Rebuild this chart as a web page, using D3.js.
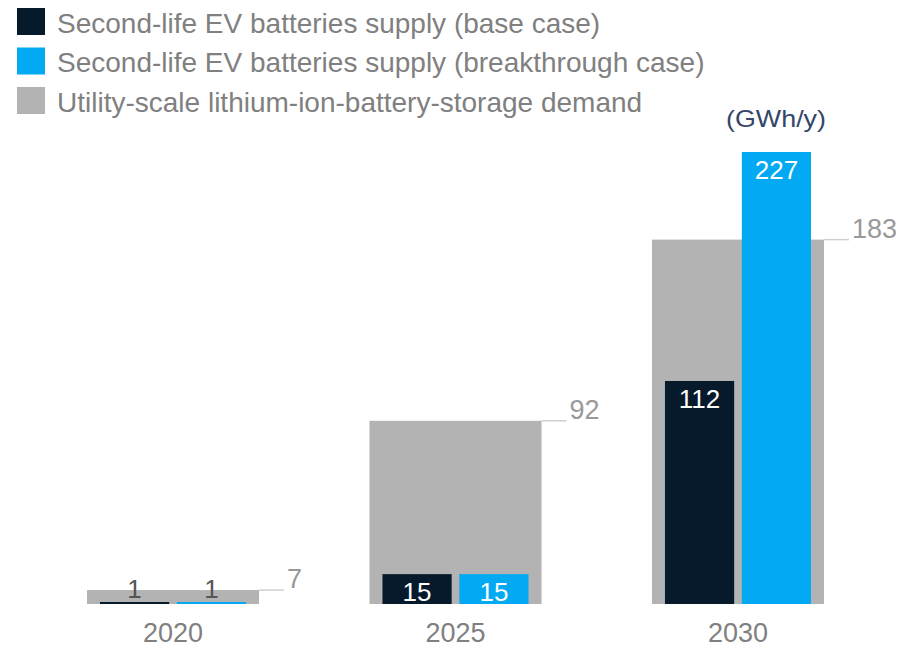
<!DOCTYPE html>
<html>
<head>
<meta charset="utf-8">
<script src="https://cdn.jsdelivr.net/npm/d3@7"></script>
<style>
  html, body { margin: 0; padding: 0; background: #fff; }
  svg { display: block; font-family: "Liberation Sans", Arial, sans-serif; }
</style>
</head>
<body>
<svg id="chart" width="898" height="648"></svg>
<script>
// ---- data ----
const years = ["2020", "2025", "2030"];
const baseCase = [1, 15, 112];
const breakthroughCase = [1, 15, 227];
const demand = [7, 92, 183];
const seriesNames = [
  "Second-life EV batteries supply (base case)",
  "Second-life EV batteries supply (breakthrough case)",
  "Utility-scale lithium-ion-battery-storage demand"
];
const unitLabel = "(GWh/y)";

// ---- styles ----
const colors = { base: "#061a2b", breakthrough: "#03a9f2", demand: "#b3b3b3" };

const svg = d3.select("#chart");

const x = d3.scaleBand().domain(years).range([30.5, 880.5]).paddingInner(0.391).paddingOuter(0.2);
const xi = d3.scaleBand().domain(["base", "breakthrough"])
  .range([13, x.bandwidth() - 13]).paddingInner(0.1);
const y = d3.scaleLinear().domain([0, 227]).range([604, 152]);

const rows = years.map((yr, i) => ({ year: yr, base: baseCase[i], breakthrough: breakthroughCase[i], demand: demand[i] }));

// legend
const legendColors = [colors.base, colors.breakthrough, colors.demand];
const lg = svg.append("g");
seriesNames.forEach((name, i) => {
  const yy = 8 + i * 39.5;
  lg.append("rect").attr("x", 17).attr("y", yy).attr("width", 28).attr("height", 27).attr("fill", legendColors[i]);
  lg.append("text").attr("x", 57).attr("y", yy + 24.5).attr("font-size", 28)
    .attr("fill", "#808080").text(name);
});

// unit label
svg.append("text").attr("x", 776).attr("y", 127).attr("text-anchor", "middle")
  .attr("font-size", 24).attr("fill", "#34466a")
  .attr("textLength", 100).attr("lengthAdjust", "spacingAndGlyphs").text(unitLabel);

const g = svg.append("g");
const groups = g.selectAll("g.grp").data(rows).join("g")
  .attr("class", "grp").attr("transform", d => `translate(${x(d.year)},0)`);

// demand bars
groups.append("rect")
  .attr("x", 0).attr("width", x.bandwidth())
  .attr("y", d => y(d.demand)).attr("height", d => y(0) - y(d.demand))
  .attr("fill", colors.demand);

// leader lines + demand labels
groups.append("line")
  .attr("x1", x.bandwidth()).attr("x2", x.bandwidth() + 25)
  .attr("y1", d => y(d.demand)).attr("y2", d => y(d.demand))
  .attr("stroke", "#cfcfcf").attr("stroke-width", 1.5);
groups.append("text")
  .attr("x", x.bandwidth() + 28).attr("y", d => y(d.demand) - 2)
  .attr("font-size", 27).attr("fill", "#999999").text(d => d.demand);

// supply bars
["base", "breakthrough"].forEach(key => {
  groups.append("rect")
    .attr("x", xi(key)).attr("width", xi.bandwidth())
    .attr("y", d => y(d[key])).attr("height", d => y(0) - y(d[key]))
    .attr("fill", colors[key]);
  groups.append("text")
    .attr("x", xi(key) + xi.bandwidth() / 2)
    .attr("y", d => (y(0) - y(d[key]) >= 25) ? y(d[key]) + 27 : y(d[key]) - 4)
    .attr("text-anchor", "middle").attr("font-size", 26)
    .attr("fill", d => (y(0) - y(d[key]) >= 25) ? "#ffffff" : "#555555")
    .text(d => d[key]);
});

// x axis labels
const xAxis = d3.axisBottom(x).tickSize(0).tickPadding(0);
const ax = svg.append("g").attr("transform", "translate(0,604)").call(xAxis);
ax.select(".domain").remove();
ax.selectAll("text").attr("dy", null).attr("y", 38).attr("font-size", 27)
  .attr("fill", "#808080").attr("font-family", "Liberation Sans, Arial, sans-serif");
</script>
</body>
</html>
